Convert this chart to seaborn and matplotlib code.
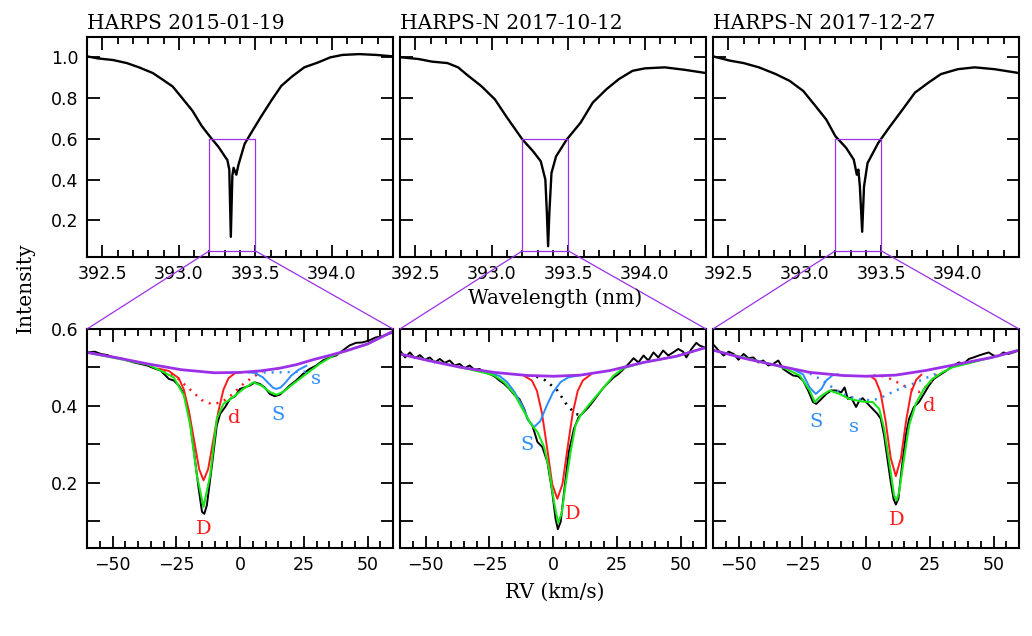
import numpy as np
import pandas as pd
import matplotlib.pyplot as plt
import seaborn as sns
from matplotlib.patches import ConnectionPatch
from matplotlib.ticker import MultipleLocator, FuncFormatter

# panel titles
titles = ['HARPS 2015-01-19', 'HARPS-N 2017-10-12', 'HARPS-N 2017-12-27']

# ---- upper panels: full Ca II K profile (wavelength nm, intensity)
top1_wl = [392.40, 392.47, 392.57, 392.66, 392.74, 392.83, 392.89, 392.96, 393.02, 393.09, 393.15,
           393.21, 393.26, 393.307, 393.317, 393.33, 393.34, 393.35, 393.358, 393.376, 393.39,
           393.43, 393.48, 393.54, 393.61, 393.67, 393.74, 393.82, 393.91, 393.99, 394.07,
           394.18, 394.29, 394.40]
top1_int = [1.005, 0.995, 0.987, 0.972, 0.951, 0.923, 0.893, 0.857, 0.802, 0.737, 0.663,
            0.605, 0.560, 0.507, 0.497, 0.450, 0.119, 0.420, 0.458, 0.424, 0.473,
            0.575, 0.638, 0.712, 0.794, 0.860, 0.906, 0.951, 0.975, 1.000, 1.012,
            1.016, 1.012, 1.005]
top2_wl = [392.41, 392.52, 392.61, 392.71, 392.78, 392.84, 392.93, 393.02, 393.10, 393.20, 393.27,
           393.32, 393.35, 393.36, 393.368, 393.376, 393.39, 393.42, 393.49, 393.58, 393.66,
           393.75, 393.83, 393.92, 394.00, 394.13, 394.26, 394.40]
top2_int = [1.000, 0.992, 0.979, 0.972, 0.951, 0.913, 0.860, 0.794, 0.704, 0.597, 0.539,
            0.490, 0.400, 0.235, 0.073, 0.235, 0.432, 0.514, 0.597, 0.679, 0.778,
            0.844, 0.893, 0.934, 0.946, 0.951, 0.939, 0.923]
top3_wl = [392.40, 392.51, 392.60, 392.70, 392.81, 392.90, 392.99, 393.07, 393.14, 393.20, 393.27,
           393.32, 393.34, 393.35, 393.36, 393.375, 393.387, 393.41, 393.48, 393.55, 393.64,
           393.72, 393.81, 393.89, 394.00, 394.11, 394.24, 394.40]
top3_int = [1.005, 0.984, 0.972, 0.951, 0.918, 0.885, 0.835, 0.761, 0.695, 0.613, 0.556,
            0.498, 0.424, 0.449, 0.366, 0.144, 0.366, 0.481, 0.580, 0.654, 0.745,
            0.827, 0.877, 0.918, 0.942, 0.951, 0.942, 0.923]

# ---- lower panels: zoom in radial velocity (km/s, intensity)
# panel 1
obs1_v = [-59.7, -57, -54.5, -52, -49.4, -46.8, -44.2, -41.6, -39, -36.4, -33.8, -31.2, -29.2, -27.9,
          -26, -24, -22, -20.1, -18.2, -16.2, -14.9, -14, -13, -11, -9.1, -7.8, -5.8, -3.9, -1.9, 0,
          1.9, 3.9, 5.8, 7.8, 9.7, 11.7, 13.6, 15.6, 17.5, 19.5, 22, 24.7, 27.3, 29.9, 32.5, 35.1,
          37.7, 40.3, 42.9, 45.5, 48, 50.6, 53.2, 55.8, 59.5]
obs1_i = [0.539, 0.541, 0.535, 0.532, 0.526, 0.524, 0.518, 0.513, 0.509, 0.505, 0.498, 0.492, 0.479, 0.470,
          0.466, 0.453, 0.431, 0.384, 0.288, 0.184, 0.124, 0.119, 0.141, 0.245, 0.349, 0.379, 0.397, 0.418, 0.425, 0.444,
          0.448, 0.453, 0.461, 0.457, 0.448, 0.431, 0.425, 0.429, 0.440, 0.453, 0.466, 0.483, 0.496, 0.505, 0.518, 0.526,
          0.531, 0.544, 0.557, 0.564, 0.565, 0.570, 0.578, 0.581, 0.590]
cont1_v = [-60, -49, -36, -23, -10, 0, 8, 15.6, 22, 28.6, 35, 41.6, 50, 60]
cont1_i = [0.539, 0.526, 0.509, 0.494, 0.486, 0.487, 0.491, 0.498, 0.507, 0.520, 0.531, 0.543, 0.561, 0.594]
fit1_v = [-60, -36, -31.2, -26, -22, -19.5, -16.9, -14.3, -11.7, -9.1, -6.5, -2.6, 1.3, 5.2, 8.4, 11.7,
          14.3, 16.9, 20.8, 26, 31.2, 36.4, 40, 50, 60]
fit1_i = [0.539, 0.507, 0.492, 0.474, 0.427, 0.349, 0.219, 0.137, 0.219, 0.366, 0.405, 0.423, 0.444, 0.461, 0.453, 0.436,
          0.429, 0.436, 0.457, 0.483, 0.509, 0.530, 0.540, 0.561, 0.594]
D1_v = [-32, -28, -24, -22, -20, -18, -16, -14.3, -12.5, -10.5, -8.5, -6.5, -4.5, -2, 0]
D1_i = [0.497, 0.491, 0.472, 0.442, 0.385, 0.310, 0.235, 0.206, 0.235, 0.310, 0.385, 0.442, 0.472, 0.485, 0.487]
d1_v = [-30, -25, -20, -15, -11, -7, -3, 1, 5, 9]
d1_i = [0.490, 0.475, 0.445, 0.415, 0.404, 0.410, 0.430, 0.455, 0.475, 0.490]
S1_v = [3, 6, 9, 11, 13, 14.3, 16, 18, 20, 23, 26]
S1_i = [0.488, 0.485, 0.474, 0.460, 0.447, 0.444, 0.448, 0.462, 0.478, 0.494, 0.504]
s1_v = [3, 8, 14, 20, 27]
s1_i = [0.487, 0.487, 0.487, 0.488, 0.489]

# panel 2
obs2_v = [-60, -58, -56.1, -54.2, -52.2, -50.3, -48.3, -46.4, -44.4, -42.5, -40.5, -38.6, -36.6, -34.7,
          -32.7, -30.8, -28.8, -26.9, -24.9, -23, -21, -19.1, -17.1, -15.2, -13.2, -11.3, -10, -8.1,
          -6.1, -4.2, -2.2, -0.3, 1, 1.9, 3, 4.5, 6.2, 8.2, 10.1, 12.1, 14, 16, 17.9, 19.9, 21.8,
          23.8, 25.7, 27.7, 29.6, 31.6, 33.5, 35.5, 37.4, 39.4, 41.3, 43.2, 45.2, 47.1, 49.1, 51,
          52.3, 54.3, 56.2, 57.5, 59.5]
obs2_i = [0.544, 0.526, 0.539, 0.524, 0.532, 0.520, 0.526, 0.513, 0.522, 0.512, 0.518, 0.505, 0.509, 0.498,
          0.505, 0.494, 0.496, 0.487, 0.483, 0.477, 0.466, 0.457, 0.444, 0.429, 0.418, 0.392, 0.366, 0.349,
          0.306, 0.293, 0.254, 0.176, 0.106, 0.079, 0.098, 0.184, 0.280, 0.340, 0.371, 0.384, 0.397, 0.414,
          0.431, 0.448, 0.461, 0.474, 0.483, 0.496, 0.509, 0.524, 0.513, 0.531, 0.518, 0.539, 0.526,
          0.544, 0.531, 0.539, 0.548, 0.541, 0.526, 0.548, 0.564, 0.557, 0.552]
cont2_v = [-60, -49, -36, -23, -10, 0.4, 10.8, 22.5, 35.5, 48.4, 60]
cont2_i = [0.535, 0.518, 0.500, 0.487, 0.479, 0.477, 0.480, 0.492, 0.513, 0.529, 0.552]
fit2_v = [-60, -36, -25.6, -23, -19.1, -15.2, -11.3, -8.7, -6.1, -3.5, -1.6, 0.4, 2, 3.4, 4.9, 6.9, 8.8,
          10.8, 13.4, 16, 19.9, 23.8, 27.7, 35.5, 48.4, 60]
fit2_i = [0.535, 0.500, 0.484, 0.479, 0.461, 0.431, 0.384, 0.353, 0.332, 0.293, 0.236, 0.150, 0.095, 0.120, 0.193,
          0.280, 0.349, 0.375, 0.397, 0.418, 0.448, 0.479, 0.498, 0.513, 0.529, 0.552]
S2_v = [-25, -21, -18, -15, -12, -9.5, -7.4, -5, -2.5, 0, 3, 6, 10]
S2_i = [0.485, 0.478, 0.462, 0.435, 0.400, 0.360, 0.345, 0.360, 0.400, 0.435, 0.462, 0.474, 0.479]
D2_v = [-11.3, -8.3, -6.3, -4.3, -2.3, -0.3, 1.7, 3.7, 5.7, 7.7, 9.7, 11.7, 14.7]
D2_i = [0.478, 0.466, 0.439, 0.380, 0.290, 0.196, 0.158, 0.196, 0.290, 0.380, 0.439, 0.466, 0.481]
k2_v = [-6.5, -2.9, 1.7, 5.6, 8.8, 10.1]
k2_i = [0.476, 0.466, 0.440, 0.401, 0.379, 0.377]

# panel 3
obs3_v = [-59.5, -57.8, -55.8, -53.9, -51.9, -50, -48, -46.1, -44.2, -42.2, -40.3, -38.3, -36.4, -34.4,
          -32.5, -30.5, -28.6, -26.6, -24.7, -22.7, -20.8, -19.5, -17.5, -15.6, -13.6, -11.7, -9.7, -8.4,
          -7.1, -5.8, -3.9, -2.6, -1.3, 0, 1.3, 3.2, 4.5, 5.8, 7.1, 8.4, 9.7, 10.8, 11.7, 12.7, 14,
          15.6, 16.9, 18.8, 20.8, 22.7, 24.7, 26.6, 28.6, 30.5, 32.5, 34.4, 36.4, 38.3, 40.3, 42.2,
          44.2, 46.1, 48.1, 50, 51.9, 53.9, 55.8, 57.8, 59.7]
obs3_i = [0.557, 0.544, 0.531, 0.541, 0.535, 0.520, 0.535, 0.524, 0.526, 0.513, 0.518, 0.505, 0.509, 0.518,
          0.496, 0.487, 0.479, 0.477, 0.466, 0.440, 0.410, 0.405, 0.418, 0.431, 0.440, 0.440, 0.435, 0.448,
          0.418, 0.422, 0.397, 0.414, 0.420, 0.410, 0.401, 0.388, 0.379, 0.366, 0.323, 0.262, 0.202, 0.158, 0.143, 0.158, 0.236,
          0.323, 0.366, 0.397, 0.410, 0.431, 0.453, 0.470, 0.479, 0.487, 0.496, 0.505, 0.513, 0.509, 0.522, 0.526,
          0.531, 0.535, 0.539, 0.531, 0.529, 0.539, 0.535, 0.539, 0.544]
cont3_v = [-60, -48, -35, -22, -9.1, 0, 11.7, 23.4, 36.4, 49.4, 60]
cont3_i = [0.545, 0.524, 0.505, 0.487, 0.479, 0.477, 0.480, 0.492, 0.509, 0.526, 0.545]
fit3_v = [-60, -35, -31.2, -26, -22.1, -20.1, -18.2, -14.3, -10.4, -6.5, -1.3, 2.6, 5.2, 7.1, 9.1, 11, 12,
          13, 14.9, 16.9, 19.5, 22.7, 26, 29.9, 33.8, 49.4, 60]
fit3_i = [0.545, 0.505, 0.496, 0.479, 0.440, 0.410, 0.423, 0.440, 0.431, 0.418, 0.411, 0.410, 0.392, 0.340,
          0.254, 0.167, 0.154, 0.176, 0.262, 0.349, 0.405, 0.444, 0.470, 0.487, 0.500, 0.526, 0.545]
S3_v = [-28, -24.7, -22.1, -19.7, -17.5, -15.6, -13, -11]
S3_i = [0.493, 0.482, 0.448, 0.431, 0.444, 0.466, 0.480, 0.482]
s3_v = [-22, -18, -14.3, -9.1, -3.9, 2.6, 6.4, 11.7, 18.2, 22.7, 27.3]
s3_i = [0.484, 0.470, 0.453, 0.431, 0.418, 0.414, 0.423, 0.440, 0.457, 0.470, 0.483]
D3_v = [1.7, 3.7, 5.7, 7.7, 9.7, 11.7, 13.7, 15.7, 17.7, 19.7, 21.7]
D3_i = [0.478, 0.468, 0.435, 0.360, 0.264, 0.217, 0.264, 0.360, 0.435, 0.468, 0.481]
d3_v = [3, 7.1, 10.4, 13.5, 16.5, 18.8, 20.8, 23, 25.3, 27.9, 30]
d3_i = [0.479, 0.477, 0.468, 0.457, 0.447, 0.440, 0.436, 0.447, 0.462, 0.483, 0.490]

RED = '#ff1a1a'
BLUE = '#2c8cff'
GREEN = '#19e619'
PURPLE = '#9b30e8'
DOT = (0, (0.8, 2.4))

plt.rcParams['font.family'] = 'DejaVu Sans'
fig = plt.figure(figsize=(10.32, 6.36), dpi=100)

W, H = 1032, 636
lefts = [87, 400, 713]
pw = 306


def box(left, top, bottom):
    return [left / W, 1 - bottom / H, pw / W, (bottom - top) / H]


def style_axis(ax):
    for sp in ax.spines.values():
        sp.set_linewidth(1.5)
    ax.tick_params(which='both', direction='in', top=True, right=True, width=1.3,
                   labelsize=12.5, pad=6)
    ax.tick_params(which='major', length=9)
    ax.tick_params(which='minor', length=5)


def line(ax, x, y, color, lw, ls='-'):
    sns.lineplot(x=x, y=y, ax=ax, color=color, linewidth=lw, linestyle=ls,
                 estimator=None, sort=False, legend=False)


tops = [(top1_wl, top1_int), (top2_wl, top2_int), (top3_wl, top3_int)]
top_axes, bot_axes = [], []
for k in range(3):
    ax = fig.add_axes(box(lefts[k], 37, 257))
    line(ax, tops[k][0], tops[k][1], 'black', 1.7)
    # zoom box
    line(ax, [393.2, 393.5, 393.5, 393.2, 393.2], [0.05, 0.05, 0.6, 0.6, 0.05], PURPLE, 0.9)
    ax.set_xlim(392.4, 394.4)
    ax.set_ylim(0.02, 1.1)
    ax.xaxis.set_major_locator(MultipleLocator(0.5))
    ax.xaxis.set_minor_locator(MultipleLocator(0.1))
    ax.xaxis.set_major_formatter(FuncFormatter(lambda v, p: f'{v:.1f}'))
    ax.yaxis.set_major_locator(MultipleLocator(0.2))
    ax.yaxis.set_major_formatter(FuncFormatter(lambda v, p: f'{v:.1f}'))
    style_axis(ax)
    if k > 0:
        ax.set_yticklabels([])
    ax.set_xlabel('')
    ax.set_ylabel('')
    ax.text(0.0, 1.02, titles[k], transform=ax.transAxes, family='DejaVu Serif',
            fontsize=14.5, ha='left', va='bottom')
    top_axes.append(ax)

bottoms = [
    [(obs1_v, obs1_i, 'black', 1.4, '-'), (d1_v, d1_i, RED, 1.8, DOT), (s1_v, s1_i, BLUE, 1.8, DOT),
     (D1_v, D1_i, RED, 1.4, '-'), (S1_v, S1_i, BLUE, 1.4, '-'), (fit1_v, fit1_i, GREEN, 1.5, '-'),
     (cont1_v, cont1_i, PURPLE, 2.0, '-')],
    [(obs2_v, obs2_i, 'black', 1.4, '-'), (k2_v, k2_i, 'black', 1.8, DOT),
     (D2_v, D2_i, RED, 1.4, '-'), (S2_v, S2_i, BLUE, 1.4, '-'), (fit2_v, fit2_i, GREEN, 1.5, '-'),
     (cont2_v, cont2_i, PURPLE, 2.0, '-')],
    [(obs3_v, obs3_i, 'black', 1.4, '-'), (d3_v, d3_i, RED, 1.8, DOT), (s3_v, s3_i, BLUE, 1.8, DOT),
     (D3_v, D3_i, RED, 1.4, '-'), (S3_v, S3_i, BLUE, 1.4, '-'), (fit3_v, fit3_i, GREEN, 1.5, '-'),
     (cont3_v, cont3_i, PURPLE, 2.0, '-')],
]
# component labels: (v, I, text, colour)
labels = [
    [(-14.3, 0.08, 'D', RED), (-2.3, 0.368, 'd', RED), (15, 0.377, 'S', BLUE), (29.6, 0.47, 's', BLUE)],
    [(-10, 0.299, 'S', BLUE), (7.9, 0.119, 'D', RED)],
    [(-19.7, 0.358, 'S', BLUE), (-4.9, 0.345, 's', BLUE), (24.9, 0.399, 'd', RED), (12.1, 0.102, 'D', RED)],
]

for k in range(3):
    ax = fig.add_axes(box(lefts[k], 329, 548))
    for x, y, c, lw, ls in bottoms[k]:
        line(ax, x, y, c, lw, ls)
    for x, y, t, c in labels[k]:
        ax.text(x, y, t, color=c, family='DejaVu Serif', fontsize=14, ha='center', va='center')
    ax.set_xlim(-60, 60)
    ax.set_ylim(0.03, 0.6)
    ax.xaxis.set_major_locator(MultipleLocator(25))
    ax.xaxis.set_minor_locator(MultipleLocator(5))
    ax.yaxis.set_major_locator(MultipleLocator(0.1))
    ax.yaxis.set_major_formatter(FuncFormatter(
        lambda v, p: f'{v:.1f}' if round(v * 10) % 2 == 0 else ''))
    style_axis(ax)
    if k > 0:
        ax.set_yticklabels([])
    ax.set_xlabel('')
    ax.set_ylabel('')
    bot_axes.append(ax)

    # lines joining the zoom box to the lower panel
    for wl, fx in [(393.2, 0.0), (393.5, 1.0)]:
        con = ConnectionPatch(xyA=(wl, 0.05), coordsA=top_axes[k].transData,
                              xyB=(fx, 1.0), coordsB=ax.transAxes,
                              color=PURPLE, linewidth=0.9)
        fig.add_artist(con)

fig.text(555 / W, 1 - 298 / H, 'Wavelength (nm)', family='DejaVu Serif', fontsize=14.5,
         ha='center', va='center')
fig.text(555 / W, 1 - 592 / H, 'RV (km/s)', family='DejaVu Serif', fontsize=14.5,
         ha='center', va='center')
fig.text(25 / W, 1 - 288 / H, 'Intensity', family='DejaVu Serif', fontsize=14.5,
         ha='center', va='center', rotation=90)

plt.savefig('out.png', dpi=100)
